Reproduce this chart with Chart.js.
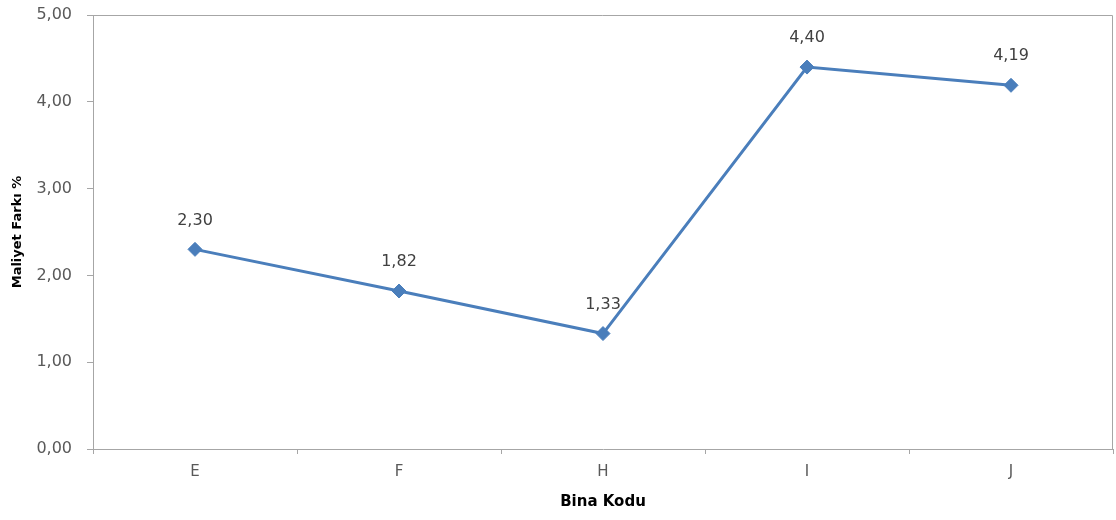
<!DOCTYPE html>
<html>
<head>
<meta charset="utf-8">
<script src="https://cdn.jsdelivr.net/npm/chart.js@4"></script>
<style>
html,body{margin:0;padding:0;background:#fff;}
#wrap{width:1116px;height:520px;}
</style>
</head>
<body>
<div id="wrap"><canvas id="c" width="1116" height="520"></canvas></div>
<script>
const categories = ['E', 'F', 'H', 'I', 'J'];
const values = [2.30, 1.82, 1.33, 4.40, 4.19];
const yTicks = [0, 1, 2, 3, 4, 5];
const yTitle = 'Maliyet Farkı %';
const xTitle = 'Bina Kodu';

const fmt = v => v.toFixed(2).replace('.', ',');

const dataLabels = {
  id: 'dataLabels',
  afterDatasetsDraw(chart) {
    const ctx = chart.ctx;
    const meta = chart.getDatasetMeta(0);
    ctx.save();
    ctx.font = '16px "DejaVu Sans"';
    ctx.fillStyle = '#404040';
    ctx.textAlign = 'center';
    ctx.textBaseline = 'middle';
    meta.data.forEach((pt, i) => {
      ctx.fillText(fmt(values[i]), pt.x, pt.y - 29);
    });
    ctx.restore();
  }
};

const frame = {
  id: 'frame',
  beforeDatasetsDraw(chart) {
    const {ctx, chartArea: a} = chart;
    ctx.save();
    ctx.strokeStyle = '#a6a6a6';
    ctx.lineWidth = 1;
    ctx.beginPath();
    ctx.moveTo(a.left, a.top + 0.5);
    ctx.lineTo(a.right - 0.5, a.top + 0.5);
    ctx.lineTo(a.right - 0.5, a.bottom);
    ctx.stroke();
    ctx.restore();
  }
};

new Chart(document.getElementById('c'), {
  type: 'line',
  data: {
    labels: categories,
    datasets: [{
      data: values,
      borderColor: '#4a7ebb',
      backgroundColor: '#4a7ebb',
      borderWidth: 3,
      pointStyle: 'rectRot',
      pointRadius: 7,
      pointBorderWidth: 1,
      tension: 0
    }]
  },
  options: {
    responsive: false,
    animation: false,
    devicePixelRatio: 1,
    layout: {autoPadding: false, padding: {left: 0, right: 3, top: 15, bottom: 0}},
    plugins: {legend: {display: false}, tooltip: {enabled: false}},
    scales: {
      x: {
        offset: true,
        grid: {offset: true, drawOnChartArea: false, tickLength: 5, color: '#a6a6a6'},
        border: {color: '#a6a6a6'},
        ticks: {font: {family: 'DejaVu Sans', size: 15}, color: '#595959', padding: 9, maxRotation: 0},
        title: {display: true, text: xTitle, font: {family: 'DejaVu Sans', size: 15, weight: 'bold'}, color: '#000', padding: {top: 0, bottom: 9}},
        afterFit(s) { s.height = 71; s.paddingLeft = 0; s.paddingRight = 0; }
      },
      y: {
        min: 0, max: 5,
        afterBuildTicks(s) { s.ticks = yTicks.map(v => ({value: v})); },
        grid: {drawOnChartArea: false, tickLength: 6, color: '#a6a6a6'},
        border: {color: '#a6a6a6'},
        ticks: {font: {family: 'DejaVu Sans', size: 16}, color: '#595959', padding: 15, callback: v => fmt(v)},
        title: {display: true, text: yTitle, font: {family: 'DejaVu Sans', size: 13, weight: 'bold'}, color: '#000', padding: {top: 10, bottom: 0}},
        afterFit(s) { s.width = 93; s.paddingTop = 0; s.paddingBottom = 0; }
      }
    }
  },
  plugins: [frame, dataLabels]
});
</script>
</body>
</html>
